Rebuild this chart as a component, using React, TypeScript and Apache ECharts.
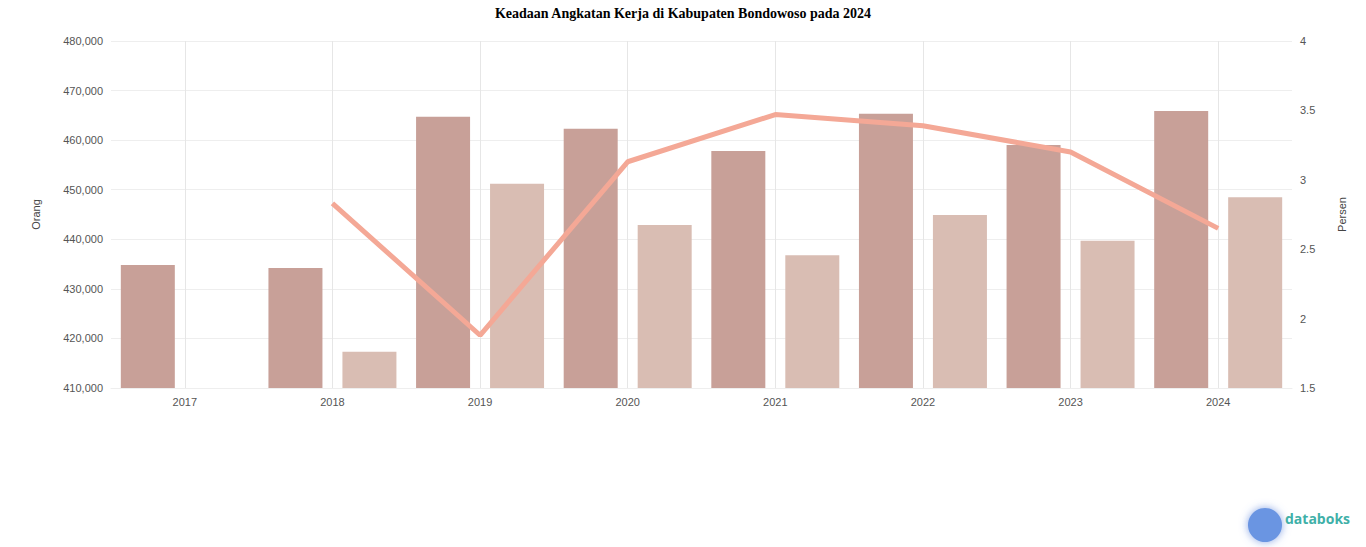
import React, { useEffect, useRef } from "react";
import * as echarts from "echarts";

const years = ["2017", "2018", "2019", "2020", "2021", "2022", "2023", "2024"];
const angkatanKerja = [434800, 434200, 464700, 462300, 457800, 465300, 459000, 465900];
const bekerja = [null, 417300, 451200, 442900, 436800, 444900, 439700, 448500];
const tpt = [null, 2.83, 1.88, 3.13, 3.47, 3.39, 3.2, 2.65];
const leftMin = 410000;
const leftMax = 480000;
const leftInterval = 10000;
const rightMin = 1.5;
const rightMax = 4;
const rightInterval = 0.5;

export default function App() {
  const ref = useRef<HTMLDivElement>(null);
  useEffect(() => {
    document.body.style.margin = "0";
    const chart = echarts.init(ref.current!, null, { renderer: "svg" });
    chart.setOption({
      animation: false,
      title: {
        text: "Keadaan Angkatan Kerja di Kabupaten Bondowoso pada 2024",
        left: "center",
        top: 1,
        textStyle: {
          fontFamily: "Liberation Serif",
          fontSize: 14,
          fontWeight: "bold",
          color: "#000",
        },
      },
      grid: { left: 111, right: 74, top: 41, bottom: 159 },
      xAxis: {
        type: "category",
        data: years,
        axisLine: { show: true, lineStyle: { color: "#eeeeee" } },
        axisTick: { show: false, alignWithLabel: true },
        axisLabel: { color: "#555", fontSize: 11, margin: 8, fontFamily: "Liberation Sans" },
        splitLine: { show: true, alignWithLabel: true, lineStyle: { color: "#e6e6e6" } },
        boundaryGap: true,
      },
      yAxis: [
        {
          type: "value",
          min: leftMin,
          max: leftMax,
          interval: leftInterval,
          name: "Orang",
          nameLocation: "middle",
          nameGap: 70,
          nameTextStyle: { color: "#444", fontSize: 11, fontFamily: "Liberation Sans" },
          axisLabel: {
            color: "#555",
            fontSize: 11,
            fontFamily: "Liberation Sans",
            formatter: (v: number) => v.toLocaleString("en-US"),
          },
          axisLine: { show: false },
          axisTick: { show: false },
          splitLine: { lineStyle: { color: "#eeeeee" } },
        },
        {
          type: "value",
          min: rightMin,
          max: rightMax,
          interval: rightInterval,
          name: "Persen",
          nameLocation: "middle",
          nameGap: 44,
          nameTextStyle: { color: "#444", fontSize: 11, fontFamily: "Liberation Sans" },
          axisLabel: { color: "#555", fontSize: 11, fontFamily: "Liberation Sans" },
          axisLine: { show: false },
          axisTick: { show: false },
          splitLine: { show: false },
        },
      ],
      series: [
        {
          name: "Angkatan Kerja",
          type: "bar",
          data: angkatanKerja,
          barWidth: 54,
          barGap: "37%",
          itemStyle: { color: "#c8a098" },
        },
        {
          name: "Bekerja",
          type: "bar",
          data: bekerja,
          barWidth: 54,
          itemStyle: { color: "#d9bdb3" },
        },
        {
          name: "TPT",
          type: "line",
          yAxisIndex: 1,
          data: tpt,
          symbol: "none",
          lineStyle: { color: "#f4a896", width: 5 },
        },
      ],
      graphic: [
        {
          type: "circle",
          shape: { cx: 1265, cy: 525, r: 17 },
          style: { fill: "#6a95e2", shadowBlur: 8, shadowColor: "rgba(90,130,220,0.7)" },
        },
        {
          type: "text",
          x: 1285,
          y: 518,
          style: {
            text: "databoks",
            fill: "#3fb0a8",
            font: "bold 14px 'Open Sans', sans-serif",
            verticalAlign: "middle",
          },
        },
      ],
    });
    return () => chart.dispose();
  }, []);
  return <div ref={ref} style={{ position: "absolute", left: 0, top: 0, width: 1366, height: 547 }} />;
}
